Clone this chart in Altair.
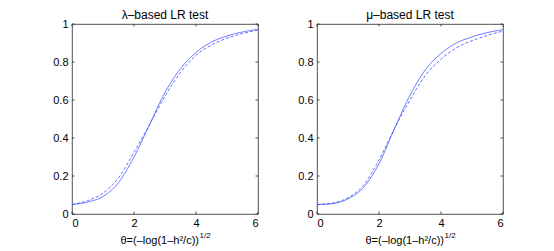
import altair as alt
import pandas as pd

theta = [0, 0.5, 1, 1.5, 2, 2.5, 3, 3.5, 4, 4.5, 5, 5.5, 6]
lam_solid = [0.050, 0.063, 0.092, 0.165, 0.300, 0.470, 0.640, 0.765, 0.850, 0.905, 0.937, 0.958, 0.972]
lam_dashed = [0.050, 0.070, 0.110, 0.190, 0.325, 0.470, 0.620, 0.745, 0.835, 0.890, 0.925, 0.950, 0.968]
mu_solid = [0.050, 0.055, 0.080, 0.140, 0.265, 0.450, 0.625, 0.760, 0.845, 0.900, 0.932, 0.955, 0.970]
mu_dashed = [0.050, 0.057, 0.086, 0.152, 0.285, 0.450, 0.600, 0.730, 0.815, 0.875, 0.912, 0.940, 0.963]

x_ticks = [0, 2, 4, 6]
y_ticks = [0, 0.2, 0.4, 0.6, 0.8, 1]
titles = ["λ–based LR test", "μ–based LR test"]
x_title_main = "θ=(–log(1–h²/c))"
x_title_sup = "1/2"

W, H = 186, 190
BLUE = "#3a4bff"
DARK = "#262626"
FONT = "Liberation Sans"


def panel(title, solid, dashed):
    n = len(theta)
    df = pd.DataFrame({
        "theta": theta * 2,
        "p": solid + dashed,
        "kind": ["solid"] * n + ["dashed"] * n,
    })
    xs = alt.Scale(domain=[0, 6], nice=False, zero=False)
    ys = alt.Scale(domain=[0, 1], nice=False, zero=False)
    xa = alt.Axis(values=x_ticks, ticks=False, domain=False, grid=False, title=None,
                  labelPadding=3, format="d")
    ya = alt.Axis(values=y_ticks, ticks=False, domain=False, grid=False, title=None,
                  labelPadding=4, format="~g")
    lines = alt.Chart(df).mark_line(color=BLUE, strokeWidth=0.8, interpolate="monotone").encode(
        x=alt.X("theta:Q", scale=xs, axis=xa),
        y=alt.Y("p:Q", scale=ys, axis=ya),
        strokeDash=alt.StrokeDash("kind:N",
                                  scale=alt.Scale(domain=["solid", "dashed"], range=[[1, 0], [3, 2]]),
                                  legend=None),
    )
    xt = pd.DataFrame({"t": x_ticks})
    yt = pd.DataFrame({"t": y_ticks})
    tb = alt.Chart(xt).mark_rule(color=DARK, strokeWidth=0.8).encode(
        x=alt.X("t:Q", scale=xs, axis=xa), y=alt.value(H), y2=alt.value(H - 2.5))
    tt = alt.Chart(xt).mark_rule(color=DARK, strokeWidth=0.8).encode(
        x=alt.X("t:Q", scale=xs, axis=xa), y=alt.value(0), y2=alt.value(2.5))
    tl = alt.Chart(yt).mark_rule(color=DARK, strokeWidth=0.8).encode(
        y=alt.Y("t:Q", scale=ys, axis=ya), x=alt.value(0), x2=alt.value(2.5))
    tr = alt.Chart(yt).mark_rule(color=DARK, strokeWidth=0.8).encode(
        y=alt.Y("t:Q", scale=ys, axis=ya), x=alt.value(W), x2=alt.value(W - 2.5))
    main = alt.Chart(pd.DataFrame({"s": [x_title_main]})).mark_text(
        align="right", baseline="alphabetic", fontSize=11, font=FONT, color="black").encode(
        text="s:N", x=alt.value(127), y=alt.value(220))
    sup = alt.Chart(pd.DataFrame({"s": [x_title_sup]})).mark_text(
        align="left", baseline="alphabetic", fontSize=8, font=FONT, color="black").encode(
        text="s:N", x=alt.value(127.5), y=alt.value(214))
    return alt.layer(lines, tb, tt, tl, tr, main, sup).properties(
        width=W, height=H,
        title=alt.TitleParams(title, fontSize=12, fontWeight="normal", font=FONT, color="black", offset=-4),
    )


chart = alt.hconcat(
    panel(titles[0], lam_solid, lam_dashed),
    panel(titles[1], mu_solid, mu_dashed),
    spacing=37,
).properties(
    padding={"left": 44, "top": 0, "right": 5, "bottom": 0},
).configure_view(
    stroke=DARK, strokeWidth=0.8
).configure_axis(
    labelFont=FONT, labelFontSize=11, labelColor="black"
)

chart.save("out.html", embed_options={"renderer": "svg", "actions": False})
